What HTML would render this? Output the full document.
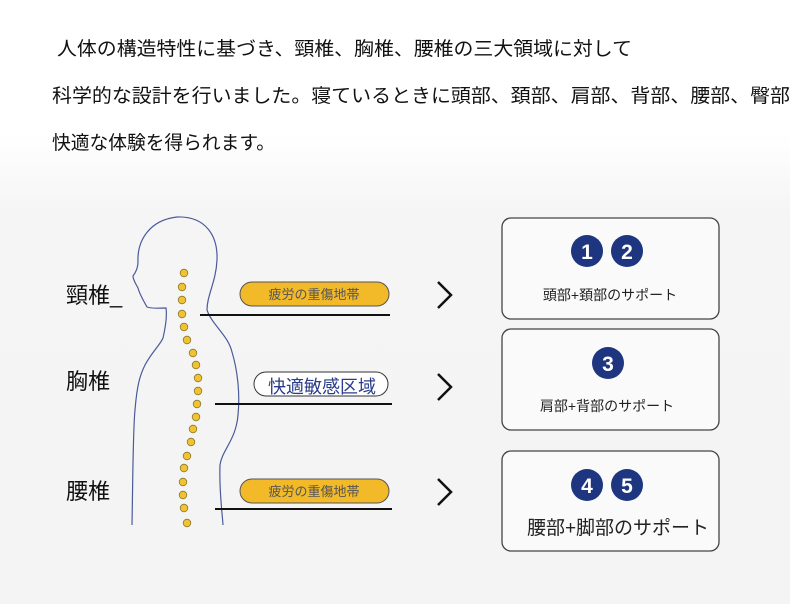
<!DOCTYPE html>
<html><head><meta charset="utf-8"><style>
body{margin:0;width:790px;height:604px;overflow:hidden;background:#fff;font-family:"Liberation Sans","Noto Sans CJK JP",sans-serif}
</style></head><body>
<svg width="790" height="604" xmlns="http://www.w3.org/2000/svg" style="font-family:'Liberation Sans','Noto Sans CJK JP',sans-serif">
<defs><linearGradient id="bg" x1="0" y1="0" x2="0" y2="1">
<stop offset="0" stop-color="#fff"/><stop offset="0.22" stop-color="#fff"/><stop offset="0.35" stop-color="#f5f5f5"/><stop offset="1" stop-color="#f4f4f4"/></linearGradient></defs>
<rect width="790" height="604" fill="url(#bg)"/>
<g font-size="19" fill="#111">
<text x="57" y="55" textLength="575" lengthAdjust="spacingAndGlyphs">人体の構造特性に基づき、頸椎、胸椎、腰椎の三大領域に対して</text>
<text x="52" y="102" textLength="738" lengthAdjust="spacingAndGlyphs">科学的な設計を行いました。寝ているときに頭部、頚部、肩部、背部、腰部、臀部</text>
<text x="52" y="149" textLength="223" lengthAdjust="spacingAndGlyphs">快適な体験を得られます。</text>
</g>
<path d="M132,525 C133,470 133,430 135,410 C137,385 140,375 145,365 C152,352 160,345 163,338 C166,325 167,315 166,308 C160,308 152,309 147,307 C143,300 139,292 138,288 C136,284 133,280 133,276 C136,272 138,268 138,262 C137,240 150,220 177,217 C205,216 218,235 217,260 C216,282 207,295 207,310 C212,325 228,335 232,352 C238,372 240,395 238,415 C236,440 222,450 220,465 C219,490 222,510 223,525" fill="none" stroke="#4a5a9a" stroke-width="1.2"/>
<g fill="#f2c230" stroke="#8a7a30" stroke-width="0.8">
<circle cx="184" cy="273" r="3.8"/><circle cx="182" cy="287" r="3.8"/><circle cx="182" cy="300" r="3.8"/><circle cx="182" cy="314" r="3.8"/><circle cx="184" cy="327" r="3.8"/><circle cx="187" cy="340" r="3.8"/><circle cx="193" cy="353" r="3.8"/><circle cx="196" cy="365" r="3.8"/><circle cx="198" cy="378" r="3.8"/><circle cx="198" cy="391" r="3.8"/><circle cx="197" cy="404" r="3.8"/><circle cx="196" cy="417" r="3.8"/><circle cx="193" cy="429" r="3.8"/><circle cx="191" cy="442" r="3.8"/><circle cx="187" cy="456" r="3.8"/><circle cx="184" cy="468" r="3.8"/><circle cx="183" cy="482" r="3.8"/><circle cx="183" cy="495" r="3.8"/><circle cx="184" cy="508" r="3.8"/><circle cx="187" cy="523" r="3.8"/>
</g>
<g font-size="22" fill="#111">
<text x="66" y="303">頸椎_</text><text x="66" y="389">胸椎</text><text x="66" y="499">腰椎</text>
</g>
<rect x="240" y="282" width="149" height="24" rx="12" fill="#f2b928" stroke="#555" stroke-width="1"/>
<text x="314" y="299" font-size="13" fill="#555" text-anchor="middle">疲労の重傷地帯</text>
<line x1="200" y1="315" x2="390" y2="315" stroke="#111" stroke-width="2"/>
<rect x="254" y="372" width="134" height="24" rx="12" fill="#fff" stroke="#333" stroke-width="1"/>
<text x="268" y="393" font-size="18" fill="#2a3c8a">快適敏感区域</text>
<line x1="215" y1="404" x2="392" y2="404" stroke="#111" stroke-width="2"/>
<rect x="240" y="479" width="149" height="24" rx="12" fill="#f2b928" stroke="#555" stroke-width="1"/>
<text x="314" y="496" font-size="13" fill="#555" text-anchor="middle">疲労の重傷地帯</text>
<line x1="215" y1="509" x2="392" y2="509" stroke="#111" stroke-width="2"/>
<g fill="none" stroke="#111" stroke-width="2.5">
<polyline points="438,282 451,295 438,308"/><polyline points="438,374 451,387 438,400"/><polyline points="438,479 451,492 438,505"/>
</g>
<g fill="#fafafa" stroke="#444" stroke-width="1.3">
<rect x="502" y="218" width="217" height="101" rx="9"/><rect x="502" y="329" width="217" height="101" rx="9"/><rect x="502" y="451" width="217" height="100" rx="9"/>
</g>
<g fill="#1e3580"><circle cx="587" cy="251" r="16"/><circle cx="627" cy="251" r="16"/><circle cx="608" cy="363" r="16"/><circle cx="587" cy="485" r="16"/><circle cx="627" cy="485" r="16"/></g>
<g fill="#fff" font-size="21" font-weight="bold" text-anchor="middle">
<text x="587" y="259">1</text><text x="627" y="259">2</text><text x="608" y="371">3</text><text x="587" y="493">4</text><text x="627" y="493">5</text>
</g>
<g fill="#222" text-anchor="middle">
<text x="610" y="300" font-size="14">頭部+頚部のサポート</text>
<text x="607" y="411" font-size="14">肩部+背部のサポート</text>
<text x="618" y="534" font-size="19">腰部+脚部のサポート</text>
</g>
</svg>
</body></html>
